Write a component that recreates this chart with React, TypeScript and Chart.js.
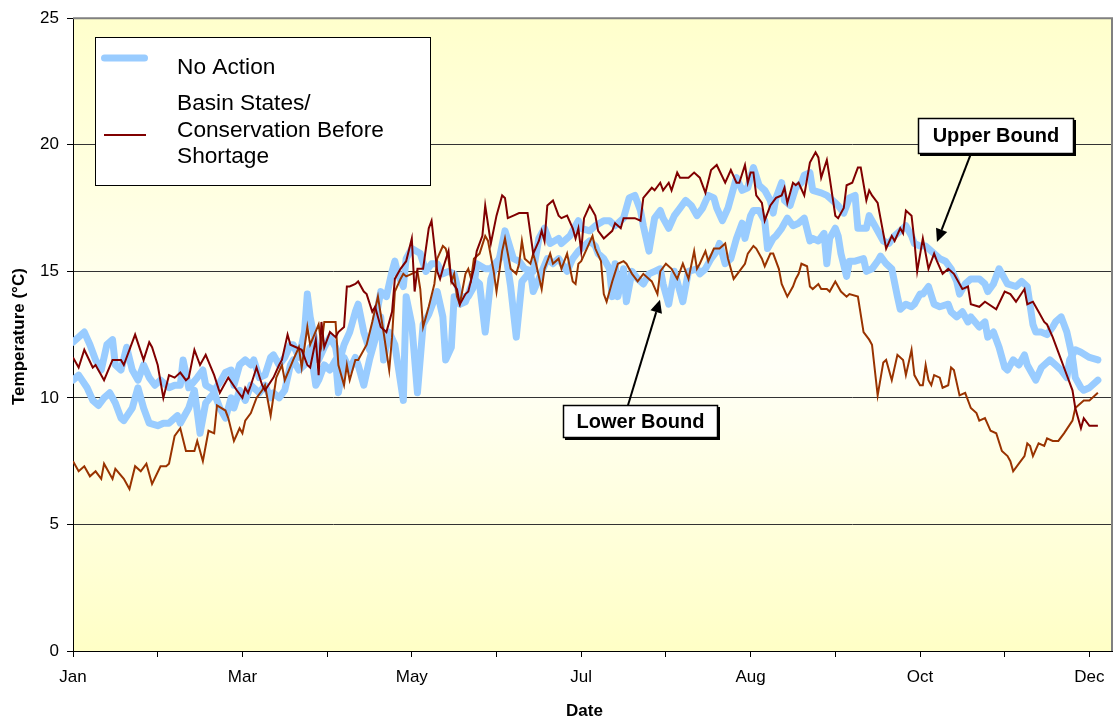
import React, { useEffect, useRef } from 'react';
import { Chart, registerables } from 'chart.js';

Chart.register(...registerables);

const FONT = "'Liberation Sans', Arial, Helvetica, sans-serif";

// ---- axis definitions ----
const monthTickDays = [0, 30, 60, 90, 120, 150, 180, 210, 240, 270, 300, 330, 360];
const monthLabelDays = [0, 60, 120, 180, 240, 300, 360];
const monthLabels = ['Jan', 'Mar', 'May', 'Jul', 'Aug', 'Oct', 'Dec'];
const dayAxisMax = 368;
const tempMin = 0;
const tempMax = 25;
const tempStep = 5;

// ---- series: [day of year, temperature °C] ----
const noActionUpper: [number, number][] = [
  [0, 12.2], [4, 12.6], [6, 12.1], [8, 11.5], [10, 11.1], [12, 12.1], [14, 12.3], [15, 11.3], [17, 11.1], [19, 12.0],
  [21, 11.1], [23, 10.7], [25, 11.3], [27, 10.8], [29, 10.5], [31, 10.7], [34, 10.4], [36, 10.5], [38, 10.5], [39, 11.5],
  [41, 10.4], [44, 10.8], [46, 11.1], [47, 10.5], [50, 10.3], [52, 10.6], [54, 11.0], [56, 11.1], [57, 10.5], [59, 11.3],
  [61, 11.5], [63, 11.3], [64, 11.5], [66, 10.8], [68, 10.9], [70, 11.6], [71, 11.7], [73, 11.3], [75, 11.6], [77, 12.1],
  [78, 12.1], [80, 11.6], [82, 12.6], [83, 14.1], [84, 13.2], [86, 12.1], [87, 11.5], [89, 12.0], [91, 12.4], [93, 12.0],
  [94, 11.3], [96, 12.1], [98, 12.6], [100, 13.4], [101, 13.7], [103, 12.6], [105, 11.9], [107, 13.0], [109, 14.2], [111, 14.0],
  [113, 15.0], [114, 15.4], [115, 14.9], [117, 14.4], [118, 15.5], [120, 15.9], [123, 15.7], [125, 15.0], [127, 15.3], [129, 15.3],
  [131, 14.9], [133, 15.0], [135, 14.9], [137, 14.0], [140, 14.0], [142, 14.4], [143, 15.3], [146, 15.1], [148, 15.1], [151, 15.5],
  [153, 16.6], [156, 15.5], [158, 15.4], [160, 15.1], [163, 15.0], [165, 16.3], [167, 16.7], [169, 16.1], [172, 16.3], [173, 16.1],
  [176, 16.4], [178, 16.8], [179, 17.0], [180, 16.7], [183, 16.6], [185, 16.8], [188, 17.0], [190, 17.0], [192, 16.8], [195, 17.1],
  [197, 17.9], [199, 18.0], [201, 17.4], [202, 16.8], [204, 15.8], [206, 17.1], [208, 17.4], [209, 17.1], [211, 16.7], [213, 17.2],
  [215, 17.5], [217, 17.8], [219, 17.6], [221, 17.2], [223, 17.5], [225, 18.0], [227, 17.9], [228, 17.5], [230, 17.0], [232, 17.5],
  [234, 18.3], [235, 18.7], [237, 18.2], [239, 18.3], [241, 19.1], [243, 18.4], [245, 18.2], [247, 17.8], [248, 17.3], [249, 17.9],
  [251, 18.5], [252, 17.8], [254, 17.6], [256, 18.3], [258, 18.5], [259, 18.8], [261, 18.9], [262, 18.2], [265, 18.1], [267, 18.0],
  [270, 17.7], [271, 17.6], [273, 17.3], [275, 17.9], [277, 18.0], [278, 16.7], [281, 16.7], [282, 17.2], [284, 16.8], [287, 16.2],
  [289, 16.1], [291, 16.4], [294, 16.7], [295, 16.8], [297, 16.4], [298, 16.1], [300, 16.0], [302, 16.0], [304, 15.8], [307, 15.5],
  [309, 15.4], [311, 15.1], [313, 14.6], [314, 14.1], [316, 14.5], [318, 14.7], [321, 14.7], [323, 14.5], [324, 14.2], [326, 14.5],
  [328, 15.1], [330, 14.7], [331, 14.5], [334, 14.4], [336, 14.6], [338, 14.4], [340, 12.9], [341, 12.6], [343, 12.6], [345, 12.5],
  [347, 12.8], [348, 13.0], [350, 13.2], [352, 12.6], [354, 11.6], [355, 10.8], [357, 10.4], [358, 10.3], [360, 10.4], [363, 10.7],
];

const noActionLower: [number, number][] = [
  [0, 10.7], [2, 10.9], [5, 10.4], [7, 9.9], [9, 9.7], [11, 10.0], [13, 10.2], [15, 9.8], [17, 9.2], [18, 9.1],
  [21, 9.6], [23, 10.4], [25, 9.6], [27, 9.0], [30, 8.9], [32, 9.0], [34, 9.0], [37, 9.3], [38, 9.0], [41, 9.6],
  [43, 10.3], [45, 8.6], [47, 9.8], [50, 10.2], [52, 9.6], [54, 9.2], [56, 10.0], [57, 9.6], [59, 10.3], [61, 9.9],
  [63, 10.5], [64, 10.4], [66, 10.2], [68, 10.5], [70, 10.0], [71, 10.2], [73, 10.0], [75, 10.3], [77, 11.3], [78, 11.5],
  [80, 11.1], [82, 11.3], [84, 12.0], [86, 10.5], [87, 10.7], [89, 11.3], [91, 11.1], [93, 11.5], [94, 10.2], [96, 11.6],
  [98, 11.1], [100, 11.6], [101, 11.3], [103, 10.5], [105, 11.5], [107, 12.3], [109, 13.2], [110, 11.5], [112, 12.6], [114, 12.1],
  [117, 9.9], [118, 14.0], [120, 12.9], [122, 10.2], [124, 12.9], [126, 13.3], [129, 14.2], [131, 13.2], [132, 11.5], [134, 12.0],
  [135, 14.0], [137, 13.7], [139, 13.8], [142, 14.7], [144, 14.5], [146, 12.6], [148, 14.7], [150, 15.3], [153, 15.9], [155, 14.4],
  [157, 12.4], [159, 14.6], [162, 15.0], [163, 14.2], [165, 14.7], [168, 15.5], [170, 15.3], [172, 15.5], [175, 15.0], [177, 15.5],
  [179, 15.8], [180, 15.9], [183, 16.2], [185, 16.0], [186, 15.7], [188, 15.5], [190, 15.1], [191, 14.0], [192, 15.3], [193, 14.0],
  [195, 15.1], [196, 13.8], [198, 15.0], [200, 14.7], [202, 14.5], [204, 14.9], [206, 15.0], [208, 15.1], [209, 14.5], [211, 13.7],
  [213, 15.0], [215, 14.2], [216, 13.8], [218, 15.0], [221, 15.1], [222, 14.9], [224, 15.1], [226, 15.5], [228, 15.8], [229, 16.1],
  [231, 15.3], [233, 15.5], [235, 16.3], [237, 16.9], [238, 16.3], [240, 17.2], [241, 17.4], [243, 17.4], [245, 17.0], [246, 15.9],
  [248, 16.3], [249, 16.4], [251, 16.7], [253, 17.1], [255, 16.8], [257, 16.9], [259, 17.1], [261, 16.2], [262, 16.3], [264, 16.2],
  [266, 16.5], [267, 15.3], [268, 16.3], [270, 16.7], [271, 16.4], [272, 15.7], [274, 14.8], [275, 15.4], [277, 15.4], [280, 15.5],
  [281, 15.0], [283, 15.1], [285, 15.4], [286, 15.6], [288, 15.3], [290, 15.1], [292, 14.0], [293, 13.5], [295, 13.7], [297, 13.6],
  [298, 13.7], [300, 14.1], [301, 14.1], [303, 14.4], [305, 13.7], [307, 13.6], [310, 13.7], [311, 13.4], [313, 13.2], [315, 13.4],
  [317, 13.0], [318, 13.2], [321, 12.8], [323, 13.0], [324, 12.4], [326, 12.6], [328, 12.0], [330, 11.2], [331, 11.1], [333, 11.5],
  [335, 11.3], [337, 11.7], [338, 11.3], [341, 10.7], [343, 11.2], [346, 11.5], [348, 11.3], [350, 11.1], [352, 10.8], [353, 11.5],
  [355, 11.9], [357, 11.8], [360, 11.6], [363, 11.5],
];

const basinUpperBound: [number, number][] = [
  [0, 11.6], [2, 11.2], [4, 11.9], [7, 11.2], [8, 11.3], [11, 10.7], [14, 11.5], [17, 11.5], [18, 11.3], [22, 12.5],
  [25, 11.5], [27, 12.2], [28, 12.0], [30, 11.3], [32, 10.0], [34, 10.9], [36, 10.8], [38, 11.0], [40, 10.7], [41, 10.8],
  [43, 11.9], [45, 11.3], [47, 11.7], [50, 10.9], [52, 10.2], [55, 10.8], [58, 10.3], [60, 10.0], [61, 10.4], [62, 10.2],
  [63, 10.5], [65, 11.2], [67, 10.5], [68, 10.3], [71, 10.8], [73, 11.3], [74, 11.5], [76, 12.5], [77, 12.1], [79, 12.0],
  [81, 11.9], [83, 11.3], [84, 11.2], [86, 12.3], [87, 10.9], [88, 13.0], [89, 12.0], [91, 12.6], [93, 12.4], [94, 12.6],
  [96, 12.8], [97, 14.4], [98, 14.4], [100, 14.5], [101, 14.6], [103, 14.2], [104, 14.1], [106, 13.4], [107, 13.6], [109, 12.8],
  [111, 12.6], [113, 13.4], [114, 14.7], [116, 15.1], [118, 15.4], [120, 16.3], [121, 14.2], [122, 15.1], [124, 15.1], [126, 16.7],
  [127, 17.0], [129, 15.0], [130, 14.7], [131, 15.1], [133, 15.8], [134, 14.6], [136, 14.3], [137, 13.7], [139, 14.1], [140, 14.2],
  [142, 15.1], [143, 15.8], [145, 16.4], [146, 17.6], [148, 16.1], [150, 17.2], [152, 18.0], [153, 17.9], [154, 17.1], [156, 17.2],
  [158, 17.3], [161, 17.3], [163, 15.7], [165, 16.2], [166, 16.6], [167, 16.2], [168, 17.6], [170, 17.8], [172, 17.2], [173, 17.1],
  [175, 17.2], [177, 16.7], [178, 16.3], [179, 16.7], [180, 15.8], [181, 17.1], [183, 17.6], [185, 17.2], [186, 16.6], [188, 16.3],
  [191, 16.6], [192, 16.9], [194, 16.7], [195, 17.1], [198, 17.1], [199, 17.1], [201, 17.0], [202, 17.9], [205, 18.3], [206, 18.2],
  [208, 18.5], [209, 18.2], [211, 18.5], [212, 18.2], [214, 18.9], [215, 18.7], [218, 18.7], [220, 18.9], [222, 18.7], [224, 18.1],
  [226, 19.0], [228, 19.2], [231, 18.5], [233, 19.0], [235, 18.5], [236, 18.5], [238, 19.2], [239, 18.5], [240, 18.9], [241, 18.9],
  [242, 18.0], [244, 17.7], [245, 17.0], [247, 17.6], [249, 17.9], [251, 18.0], [252, 18.3], [253, 17.7], [255, 18.5], [256, 18.4],
  [257, 18.5], [259, 18.0], [261, 19.3], [263, 19.7], [264, 19.5], [265, 18.7], [267, 19.4], [268, 18.7], [270, 17.2], [271, 17.1],
  [273, 17.5], [274, 18.4], [276, 18.5], [278, 19.1], [279, 19.1], [281, 17.8], [282, 18.2], [283, 18.0], [285, 17.7], [286, 17.1],
  [288, 15.9], [290, 16.4], [291, 16.2], [293, 16.7], [294, 16.5], [295, 17.4], [297, 17.2], [298, 16.2], [299, 15.0], [301, 16.3],
  [303, 15.1], [305, 15.7], [306, 15.4], [308, 14.9], [310, 15.1], [312, 14.9], [315, 14.3], [317, 14.4], [318, 13.7], [321, 13.6],
  [323, 13.8], [327, 13.5], [330, 14.2], [332, 14.1], [334, 13.8], [337, 14.3], [338, 13.7], [340, 13.8], [342, 13.4], [344, 13.0],
  [345, 12.9], [347, 12.4], [350, 11.5], [351, 11.2], [354, 10.3], [355, 9.6], [357, 8.8], [358, 9.2], [360, 8.9], [363, 8.9],
];

const basinLowerBound: [number, number][] = [
  [0, 7.5], [2, 7.1], [4, 7.3], [6, 6.9], [8, 7.1], [10, 6.8], [11, 7.4], [14, 6.8], [15, 7.2], [18, 6.8],
  [20, 6.4], [22, 7.3], [24, 7.1], [26, 7.4], [28, 6.6], [31, 7.3], [33, 7.3], [34, 7.4], [36, 8.5], [38, 8.8],
  [40, 7.9], [43, 7.9], [44, 8.3], [46, 7.5], [48, 8.7], [50, 8.6], [51, 9.7], [54, 9.5], [55, 9.2], [57, 8.3],
  [59, 8.8], [60, 8.6], [61, 9.1], [63, 9.4], [65, 10.0], [67, 10.3], [68, 10.5], [70, 9.3], [72, 10.8], [74, 11.3],
  [75, 10.7], [78, 11.5], [80, 12.0], [81, 11.2], [83, 12.8], [84, 12.1], [87, 12.9], [88, 12.1], [89, 13.0], [91, 13.0],
  [93, 13.0], [94, 11.3], [96, 10.5], [97, 11.3], [98, 10.7], [100, 11.5], [101, 11.5], [104, 12.1], [106, 13.0], [108, 14.0],
  [110, 12.6], [112, 11.1], [113, 12.4], [114, 14.2], [116, 14.7], [117, 14.9], [118, 14.8], [120, 14.9], [122, 15.0], [123, 14.3],
  [124, 12.8], [126, 13.6], [128, 14.5], [129, 15.5], [131, 16.0], [132, 15.9], [133, 15.5], [134, 14.6], [135, 14.9], [136, 14.0],
  [137, 13.7], [139, 14.9], [140, 15.1], [141, 14.7], [142, 15.5], [144, 15.7], [146, 16.4], [147, 16.2], [149, 15.0], [150, 14.2],
  [151, 15.0], [152, 15.8], [153, 16.3], [155, 15.1], [157, 14.9], [158, 15.3], [159, 16.2], [160, 15.5], [162, 15.3], [163, 15.7],
  [164, 15.3], [166, 14.3], [167, 15.1], [169, 15.7], [170, 15.3], [172, 15.5], [173, 15.1], [175, 15.7], [177, 14.6], [178, 14.5],
  [179, 15.3], [180, 15.4], [182, 15.9], [184, 16.4], [185, 15.9], [187, 15.4], [188, 14.1], [189, 13.8], [191, 14.6], [193, 15.3],
  [195, 15.4], [196, 15.3], [198, 14.9], [200, 14.6], [202, 14.9], [204, 14.7], [205, 14.6], [207, 14.1], [208, 15.0], [210, 15.3],
  [212, 15.1], [214, 14.7], [215, 15.0], [216, 15.3], [218, 14.7], [220, 15.8], [221, 15.1], [222, 15.3], [224, 15.8], [225, 15.4],
  [227, 15.9], [229, 15.9], [231, 16.1], [232, 15.5], [234, 14.7], [236, 15.0], [238, 15.3], [239, 15.7], [241, 16.0], [242, 15.9],
  [244, 15.5], [245, 15.2], [247, 15.7], [248, 15.7], [250, 15.1], [251, 14.5], [253, 14.0], [255, 14.4], [256, 14.7], [257, 14.9],
  [258, 15.3], [260, 15.2], [261, 14.4], [262, 14.3], [264, 14.5], [265, 14.3], [267, 14.3], [268, 14.2], [270, 14.6], [272, 14.2],
  [274, 14.0], [275, 14.1], [278, 14.0], [280, 12.6], [282, 12.3], [283, 12.1], [285, 10.1], [287, 11.4], [288, 11.5], [290, 10.7],
  [292, 11.7], [294, 11.5], [295, 10.9], [297, 11.9], [298, 10.9], [300, 10.5], [301, 10.5], [302, 11.3], [303, 10.7], [304, 10.5],
  [305, 10.9], [307, 10.8], [308, 10.4], [310, 10.5], [311, 11.2], [312, 11.1], [314, 10.1], [316, 10.2], [318, 9.6], [320, 9.4],
  [321, 9.1], [323, 9.2], [325, 8.7], [327, 8.6], [329, 7.9], [331, 7.7], [332, 7.5], [333, 7.1], [335, 7.4], [337, 7.7],
  [338, 8.2], [339, 8.1], [340, 7.7], [342, 8.2], [344, 8.1], [345, 8.4], [347, 8.3], [349, 8.3], [351, 8.6], [354, 9.1],
  [355, 9.6], [358, 9.9], [360, 9.9], [363, 10.2],
];

const noActionLabel = 'No Action';
const basinLabel = 'Basin States/\nConservation Before\nShortage';
const xTitle = 'Date';
const yTitle = 'Temperature (°C)';

// annotation callouts (anchored in data units)
const callouts = [
  { text: 'Upper Bound', boxDay: 326.9, boxTemp: 20.36, tipDay: 306.0, tipTemp: 16.16, w: 156, h: 36, tailDx: -25, tailDy: 18 },
  { text: 'Lower Bound', boxDay: 201.0, boxTemp: 9.06, tipDay: 207.9, tipTemp: 13.88, w: 155, h: 33, tailDx: -12.5, tailDy: -16.5 },
];

const BLUE = '#99CCFF';
const DARK_RED = '#800000';
const BROWN = '#993300';

const toXY = (s: [number, number][]) => s.map(([x, y]) => ({ x, y }));

function drawArrow(ctx: CanvasRenderingContext2D, x1: number, y1: number, x2: number, y2: number) {
  const ang = Math.atan2(y2 - y1, x2 - x1);
  const headLen = 13;
  const headW = 6;
  const bx = x2 - headLen * Math.cos(ang);
  const by = y2 - headLen * Math.sin(ang);
  ctx.strokeStyle = '#000';
  ctx.fillStyle = '#000';
  ctx.lineWidth = 2;
  ctx.beginPath();
  ctx.moveTo(x1, y1);
  ctx.lineTo(bx, by);
  ctx.stroke();
  ctx.beginPath();
  ctx.moveTo(x2, y2);
  ctx.lineTo(bx + headW * Math.sin(ang), by - headW * Math.cos(ang));
  ctx.lineTo(bx - headW * Math.sin(ang), by + headW * Math.cos(ang));
  ctx.closePath();
  ctx.fill();
}

const decorPlugin = {
  id: 'decor',
  beforeDraw(chart: any) {
    const { ctx, chartArea: a, width, height } = chart;
    ctx.save();
    ctx.fillStyle = '#ffffff';
    ctx.fillRect(0, 0, width, height);
    const g = ctx.createLinearGradient(0, a.top, 0, a.bottom);
    g.addColorStop(0, '#FFFFCC');
    g.addColorStop(0.55, '#FFFFF7');
    g.addColorStop(1, '#FFFFC6');
    ctx.fillStyle = g;
    ctx.fillRect(a.left, a.top, a.right - a.left, a.bottom - a.top);
    ctx.restore();
  },
  afterDraw(chart: any) {
    const { ctx, chartArea: a } = chart;
    const xs = chart.scales.x;
    const ys = chart.scales.y;
    ctx.save();

    // top & right frame
    ctx.strokeStyle = '#808080';
    ctx.lineWidth = 2;
    ctx.beginPath();
    ctx.moveTo(a.left, a.top);
    ctx.lineTo(a.right, a.top);
    ctx.lineTo(a.right, a.bottom);
    ctx.stroke();

    // legend
    const lx = 95, ly = 37, lw = 335, lh = 148;
    ctx.fillStyle = '#fff';
    ctx.fillRect(lx, ly, lw, lh);
    ctx.strokeStyle = '#000';
    ctx.lineWidth = 1;
    ctx.strokeRect(lx + 0.5, ly + 0.5, lw, lh);
    const sets = chart.data.datasets;
    const entries = [
      { ds: sets.find((d: any) => d.label === noActionLabel), sampleY: 58, x1: 104.5, x2: 144.5, baselines: [74] },
      { ds: sets.find((d: any) => d.label === basinLabel), sampleY: 135, x1: 104, x2: 146, baselines: [110, 137, 163] },
    ];
    ctx.font = `22.7px ${FONT}`;
    ctx.textAlign = 'left';
    ctx.textBaseline = 'alphabetic';
    entries.forEach((e) => {
      if (!e.ds) return;
      ctx.strokeStyle = e.ds.borderColor;
      ctx.lineWidth = e.ds.borderWidth;
      ctx.lineCap = e.ds.borderCapStyle === 'round' ? 'round' : 'butt';
      ctx.beginPath();
      ctx.moveTo(e.x1, e.sampleY);
      ctx.lineTo(e.x2, e.sampleY);
      ctx.stroke();
      ctx.fillStyle = '#000';
      String(e.ds.label).split('\n').forEach((line: string, i: number) => {
        ctx.fillText(line, 177, e.baselines[i]);
      });
    });
    ctx.lineCap = 'butt';

    // callouts
    callouts.forEach((c) => {
      const cx = xs.getPixelForValue(c.boxDay);
      const cy = ys.getPixelForValue(c.boxTemp);
      const bx = Math.round(cx - c.w / 2);
      const by = Math.round(cy - c.h / 2);
      drawArrow(ctx, cx + c.tailDx, cy + c.tailDy, xs.getPixelForValue(c.tipDay), ys.getPixelForValue(c.tipTemp));
      ctx.fillStyle = '#000';
      ctx.fillRect(bx + 2, by + 2, c.w, c.h);
      ctx.fillStyle = '#fff';
      ctx.fillRect(bx, by, c.w, c.h);
      ctx.strokeStyle = '#000';
      ctx.lineWidth = 1.5;
      ctx.strokeRect(bx + 0.5, by + 0.5, c.w - 1, c.h - 1);
      ctx.fillStyle = '#000';
      ctx.font = `bold 20px ${FONT}`;
      ctx.textAlign = 'center';
      ctx.textBaseline = 'middle';
      ctx.fillText(c.text, cx, cy + 1);
    });

    // axis titles
    ctx.fillStyle = '#000';
    ctx.font = `bold 17px ${FONT}`;
    ctx.textAlign = 'center';
    ctx.textBaseline = 'alphabetic';
    ctx.fillText(xTitle, (a.left + a.right) / 2 - 8, 716);
    ctx.save();
    ctx.translate(24, (a.top + a.bottom) / 2 + 2);
    ctx.rotate(-Math.PI / 2);
    ctx.fillText(yTitle, 0, 0);
    ctx.restore();

    ctx.restore();
  },
};

export default function App() {
  const ref = useRef<HTMLCanvasElement>(null);

  useEffect(() => {
    const canvas = ref.current;
    if (!canvas) return;
    Chart.defaults.font.family = FONT;
    Chart.defaults.color = '#000';

    const chart = new Chart(canvas, {
      type: 'line',
      data: {
        datasets: [
          {
            label: basinLabel,
            data: toXY(basinUpperBound),
            borderColor: DARK_RED,
            backgroundColor: DARK_RED,
            borderWidth: 2,
            pointRadius: 0,
            tension: 0,
            order: 1,
          },
          {
            label: 'Basin States lower',
            data: toXY(basinLowerBound),
            borderColor: BROWN,
            backgroundColor: BROWN,
            borderWidth: 2,
            pointRadius: 0,
            tension: 0,
            order: 1,
          },
          {
            label: noActionLabel,
            data: toXY(noActionUpper),
            borderColor: BLUE,
            backgroundColor: BLUE,
            borderWidth: 7,
            borderCapStyle: 'round',
            borderJoinStyle: 'round',
            pointRadius: 0,
            tension: 0,
            order: 2,
          },
          {
            label: 'No Action lower',
            data: toXY(noActionLower),
            borderColor: BLUE,
            backgroundColor: BLUE,
            borderWidth: 7,
            borderCapStyle: 'round',
            borderJoinStyle: 'round',
            pointRadius: 0,
            tension: 0,
            order: 2,
          },
        ],
      },
      options: {
        responsive: false,
        animation: false,
        devicePixelRatio: 1,
        layout: { padding: { top: 15, right: 3, left: 0, bottom: 0 } },
        plugins: {
          legend: { display: false },
          tooltip: { enabled: false },
          title: { display: false },
        },
        scales: {
          x: {
            type: 'linear',
            min: 0,
            max: dayAxisMax,
            bounds: 'data',
            afterFit: (s: any) => { s.height = 70; },
            afterBuildTicks: (s: any) => { s.ticks = monthTickDays.map((v) => ({ value: v })); },
            ticks: {
              autoSkip: false,
              maxRotation: 0,
              minRotation: 0,
              padding: 10,
              font: { size: 17, family: FONT },
              color: '#000',
              callback: (v: any) => {
                const i = monthLabelDays.indexOf(Number(v));
                return i >= 0 ? monthLabels[i] : '';
              },
            },
            grid: { drawOnChartArea: false, drawTicks: true, tickLength: 6, color: '#000', tickColor: '#000' },
            border: { display: true, color: '#000', width: 1 },
          },
          y: {
            type: 'linear',
            min: tempMin,
            max: tempMax,
            afterFit: (s: any) => { s.width = 73; },
            ticks: { stepSize: tempStep, padding: 8, font: { size: 17, family: FONT }, color: '#000' },
            grid: {
              color: (c: any) => (c.tick && c.tick.value === tempMax ? '#808080' : '#333333'),
              lineWidth: 1,
              drawTicks: true,
              tickLength: 6,
              tickColor: '#000',
            },
            border: { display: true, color: '#000', width: 1 },
          },
        },
      },
      plugins: [decorPlugin],
    } as any);

    return () => chart.destroy();
  }, []);

  return (
    <div style={{ position: 'fixed', left: 0, top: 0, width: 1115, height: 721, background: '#fff' }}>
      <canvas ref={ref} width={1115} height={721} style={{ display: 'block', width: 1115, height: 721 }} />
    </div>
  );
}
